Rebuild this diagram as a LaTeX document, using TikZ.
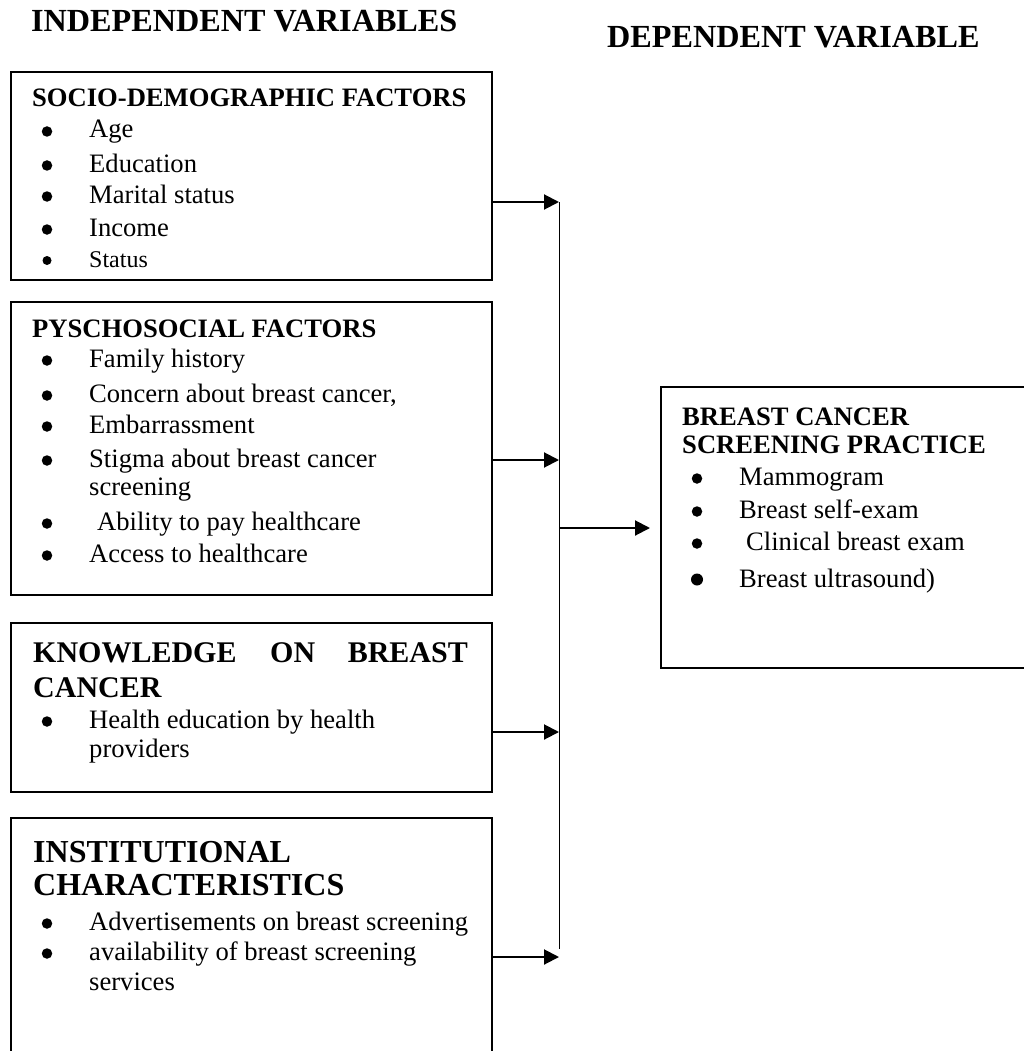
\documentclass[tikz,border=0pt]{standalone}
\usepackage{fontspec}
\setmainfont{Liberation Serif}
\usetikzlibrary{arrows.meta}
\tikzset{
  box/.style={draw, line width=2pt, inner sep=0pt, outer sep=0pt, anchor=north west},
  ttl/.style={anchor=base west, inner sep=0pt, font=\fontsize{32.2}{36}\selectfont\bfseries},
  hd/.style={anchor=base west, inner sep=0pt, font=\fontsize{26.6}{30}\selectfont\bfseries},
  hdl/.style={anchor=base west, inner sep=0pt, font=\fontsize{30}{34}\selectfont\bfseries},
  hdx/.style={anchor=base west, inner sep=0pt, font=\fontsize{32}{36}\selectfont\bfseries},
  itm/.style={anchor=base west, inner sep=0pt, font=\fontsize{26.6}{30}\selectfont},
  bul/.style={circle, fill, inner sep=0pt, minimum size=10.5pt, yshift=6.5pt},
  arr/.style={line width=2pt, -{Triangle[length=15pt,width=15pt]}},
  bus/.style={line width=1pt}
}
\begin{document}
\begin{tikzpicture}[x=1pt,y=-1pt]
\useasboundingbox (0,0) rectangle (1024,1051);
% titles
\node[ttl] (t1) at (31,32) {INDEPENDENT VARIABLES};
\node[ttl] (t2) at (607,48) {DEPENDENT VARIABLE};
% boxes
\node[box, minimum width=481, minimum height=208] (b1) at (11,72) {};
\node[box, minimum width=481, minimum height=293] (b2) at (11,302) {};
\node[box, minimum width=481, minimum height=169] (b3) at (11,623) {};
\node[box, minimum width=481, minimum height=250] (b4) at (11,818) {};
\node[box, minimum width=369, minimum height=281] (rb) at (661,387) {};
% box 1
\node[hd] (h1) at (32,107) {SOCIO-DEMOGRAPHIC FACTORS};
\node[bul] (p11) at (47,138) {}; \node[itm] (i11) at (89,138) {Age};
\node[bul] (p12) at (47,172) {}; \node[itm] (i12) at (89,172) {Education};
\node[bul] (p13) at (47,203) {}; \node[itm] (i13) at (89,203) {Marital status};
\node[bul] (p14) at (47,236) {}; \node[itm] (i14) at (89,236) {Income};
\node[bul, minimum size=9pt] (p15) at (47,267) {}; \node[itm, font=\fontsize{24}{28}\selectfont] (i15) at (89,267) {Status};
% box 2
\node[hd] (h2) at (32,337) {PYSCHOSOCIAL FACTORS};
\node[bul] (p21) at (47,367) {}; \node[itm] (i21) at (89,367) {Family history};
\node[bul] (p22) at (47,402) {}; \node[itm] (i22) at (89,402) {Concern about breast cancer,};
\node[bul] (p23) at (47,433) {}; \node[itm] (i23) at (89,433) {Embarrassment};
\node[bul] (p24) at (47,467) {}; \node[itm] (i24) at (89,467) {Stigma about breast cancer};
\node[itm] (i25) at (89,495) {screening};
\node[bul] (p26) at (47,530) {}; \node[itm] (i26) at (97,530) {Ability to pay healthcare};
\node[bul] (p27) at (47,562) {}; \node[itm] (i27) at (89,562) {Access to healthcare};
% box 3
\node[hdl] (h3a) at (33,662) {KNOWLEDGE};
\node[hdl] (h3b) at (270,662) {ON};
\node[hdl, anchor=base east] (h3c) at (468,662) {BREAST};
\node[hdl] (h3d) at (33,697) {CANCER};
\node[bul] (p31) at (47,728) {}; \node[itm] (i31) at (89,728) {Health education by health};
\node[itm] (i32) at (89,757) {providers};
% box 4
\node[hdx] (h4a) at (33,862) {INSTITUTIONAL};
\node[hdx] (h4b) at (33,895) {CHARACTERISTICS};
\node[bul] (p41) at (47,930) {}; \node[itm] (i41) at (89,930) {Advertisements on breast screening};
\node[bul] (p42) at (47,960) {}; \node[itm] (i42) at (89,960) {availability of breast screening};
\node[itm] (i43) at (89,990) {services};
% right box
\node[hd] (h5a) at (682,425) {BREAST CANCER};
\node[hd] (h5b) at (682,453) {SCREENING PRACTICE};
\node[bul] (p51) at (697,485) {}; \node[itm] (i51) at (739,485) {Mammogram};
\node[bul] (p52) at (697,518) {}; \node[itm] (i52) at (739,518) {Breast self-exam};
\node[bul] (p53) at (697,550) {}; \node[itm] (i53) at (746,550) {Clinical breast exam};
\node[bul, minimum size=12pt, yshift=1pt] (p54) at (697,587) {}; \node[itm] (i54) at (739,587) {Breast ultrasound)};
% connectors
\coordinate (c1) at (559,202);
\coordinate (c2) at (559,460);
\coordinate (c3) at (559,732);
\coordinate (c4) at (559,957);
\coordinate (cb) at (559,949);
\coordinate (co) at (559,528);
\draw[bus] (c1) -- (cb);
\draw[arr] (b1.east |- c1) -- (c1);
\draw[arr] (b2.east |- c2) -- (c2);
\draw[arr] (b3.east |- c3) -- (c3);
\draw[arr] (b4.east |- c4) -- (c4);
\draw[arr, shorten >=11pt] (co) -- (co -| rb.west);
\end{tikzpicture}
\end{document}
